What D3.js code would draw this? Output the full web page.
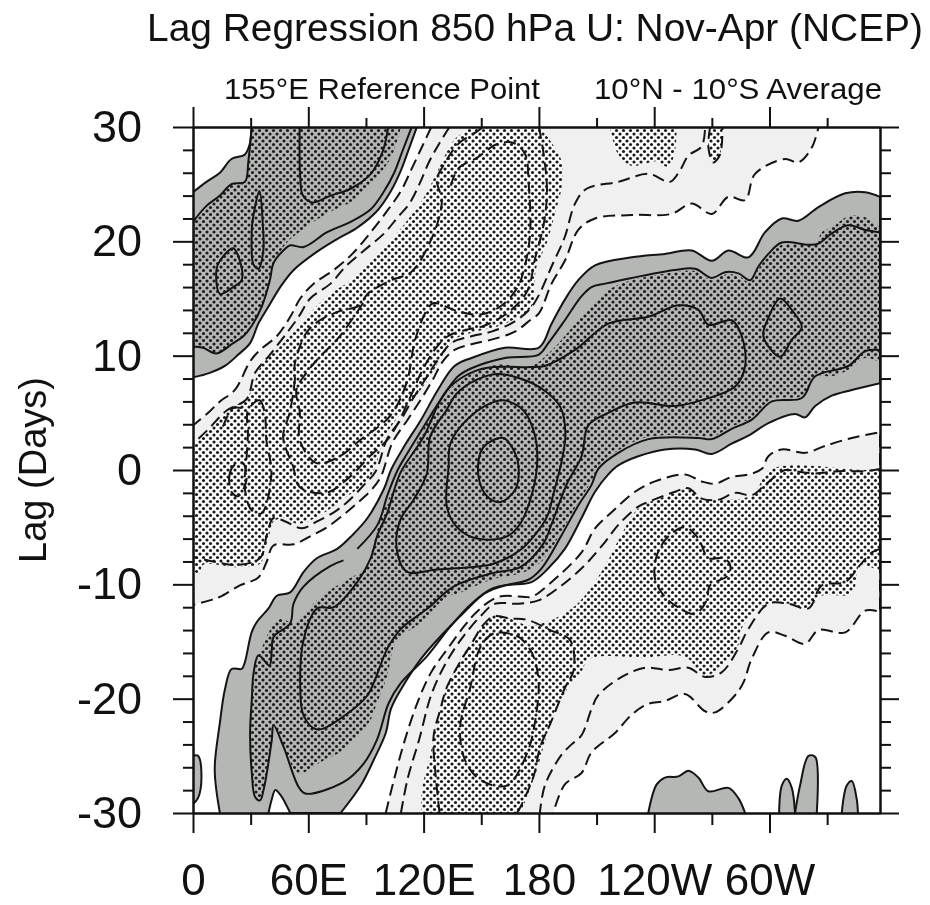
<!DOCTYPE html>
<html>
<head>
<meta charset="utf-8">
<script src="https://cdn.jsdelivr.net/npm/d3@7"></script>
<style>
  html, body { margin: 0; padding: 0; background: #fff; }
  svg { display: block; filter: blur(0.55px); font-family: "Liberation Sans", Arial, sans-serif; fill: #111; }
</style>
</head>
<body>
<svg id="chart" width="930" height="905"></svg>
<script>
// all contours are [longitude (deg E), lag (days)]

const lonMajor = [0, 60, 120, 180, 240, 300]
const lonMinor = [30, 90, 150, 210, 270, 330]
const lonLabels = ["0", "60E", "120E", "180", "120W", "60W"]
const lagMajor = [-30, -20, -10, 0, 10, 20, 30]
const lagMinor = d3.range(-30, 31, 2).filter(d => d % 10 !== 0)

// upper left positive band
const posTopOuter = [[0,24.3],[7,25.2],[14,26],[20,27.2],[27,27.6],[29.5,28.5],[30.5,30],[116.5,30],[112.6,28.2],[108.2,26.2],[103,24.4],[96,22.7],[85.5,21.2],[75,20.2],[64.6,19.1],[52.4,17.5],[45.4,16],[39.3,14.3],[34,12.8],[29.7,11.1],[23.6,10.1],[16.6,9.1],[8.7,8.5],[0,8.1]]
const posTopInner = [[0,21.7],[7,23.1],[14,24],[20,25],[27,25.2],[28.8,27],[30.5,30],[113.8,30],[109,27.9],[104.7,26],[99.5,24.4],[92.5,22.8],[82,21.7],[69.8,20.8],[57.6,19.5],[50.6,19.65],[47,19.2],[41.9,18.1],[40,16.6],[35.8,14.3],[30.5,12.6],[26.2,11.7],[20.9,11.1],[12.2,10.2],[5.2,10.7],[0,10.8]]
const posTopStipple = [[0,21.7],[7,23.1],[14,24],[20,25],[27,25.2],[28.8,27],[30.5,30],[108.2,30],[103,27.3],[92.5,25],[83.8,23.6],[71.6,22.6],[57.6,21.1],[48.9,19.9],[43.6,18.6],[41.9,18.1],[40,16.6],[35.8,14.3],[30.5,12.6],[26.2,11.7],[20.9,11.1],[12.2,10.2],[5.2,10.7],[0,10.8]]
const posTopCore = [[55.5,30],[55.8,25.6],[57.2,24],[62,23.4],[71.6,24],[82,24.6],[92.5,25.9],[98.6,27.8],[101.2,29.6],[101.6,30]]
const posTopSliver = [[34.6,24.4],[31,21.8],[30.5,20.4],[31.4,18],[34,17.6],[36.6,19.2],[36.3,21.5]]
const posTopLoop = [[20.9,19.4],[14,18.3],[12.2,17.5],[14,15.4],[20.9,16],[25.3,16.6],[24.4,18.3]]

// main positive band
const posMainOuter = [[14,-30],[11.3,-26.2],[14,-22.1],[16.6,-19.2],[20.1,-17.4],[25.3,-17.4],[27,-16.8],[30.5,-14.2],[33.2,-13.3],[39.3,-12.1],[43.6,-11],[50.6,-10.7],[57.6,-8.9],[64.6,-7.7],[75,-6.9],[82.9,-5.7],[90.8,-4.2],[99.5,-1.6],[103,0],[110,2.1],[118.7,4.4],[127.4,7],[136.1,9.1],[144.9,9.8],[162.3,10.7],[180,10.7],[186.6,12.8],[193.5,14.9],[200.5,16.6],[209.2,17.9],[228.3,18.6],[245.6,18.9],[259.5,19.2],[270,18.3],[278.6,19.2],[289,18.6],[297.7,20.8],[306.4,22],[315,21.8],[325.5,23],[339.4,24.2],[349.8,24.3],[357.5,23.9],[357.5,7.6],[342.8,7],[332.4,6.5],[323.8,5.6],[318.5,4.6],[313.3,4.9],[299.4,4.1],[289,3],[280.3,2.3],[269.9,1.4],[261.3,1.8],[245.6,1.8],[231.7,1.2],[221.3,0.4],[216,-0.4],[209.2,-1.9],[202.2,-4.2],[193.5,-6.9],[184.9,-8.6],[176.2,-9.8],[162.3,-10.1],[151.8,-10.8],[141.4,-12.4],[127.4,-14.8],[118.7,-16.5],[108.2,-19.2],[103,-20.9],[100.3,-23],[94.2,-25.3],[87.3,-27.6],[76.8,-30],[50.6,-30],[45.4,-28.4],[42.8,-28],[41,-28.8],[39.3,-30]]
const posMainSecond = [[78.3,-7.9],[71.4,-8.4],[57.5,-10.2],[52.3,-11.7],[50.6,-13.4],[41.9,-14.6],[41,-15.7],[39.8,-17.1],[34.1,-16.2],[31.5,-17.8],[30.6,-20.1],[29.7,-23],[30.6,-26.5],[32.3,-28.6],[34.9,-28.9],[36.7,-28],[41,-23.6],[41.9,-22.3],[47.1,-24.2],[54.9,-27.7],[58.4,-28.3],[78.3,-27.3],[88.7,-25.7],[95.7,-23.6],[101.8,-20.4],[107.8,-18.7],[121.7,-16.3],[133.9,-13.7],[144.9,-11.7],[155.3,-10.4],[174.5,-9.6],[181.4,-8.6],[191.8,-5.7],[200.5,-3.1],[207.4,-1.3],[210.9,0.1],[221.3,1.5],[237,2.7],[263,2.8],[269.9,2.7],[280.3,3.6],[290.8,4.4],[301.2,6],[316.8,6.3],[323.8,8.2],[341.1,9.1],[349.8,10.4],[357.5,10.5],[357.5,20.8],[349.8,21],[341.1,21.4],[332.4,20.7],[325.5,19.8],[320.3,19.7],[306.4,19.9],[299.4,18.9],[294.2,17.8],[289.9,16.6],[283.8,17.2],[276.9,17.3],[269.9,16.8],[261.3,17.6],[250.8,17.5],[228.3,16.8],[214.4,16.3],[207.4,16],[202.2,15.2],[193.5,13.1],[184.9,11.1],[180,10.1],[162.3,9.8],[144.9,8.9],[137.9,8.2],[129.1,6.2],[120.4,3.9],[111.7,1.5],[106.5,0],[101.2,-2.2],[96,-4.8],[85.5,-6.9]]
const posMainStipple = [[90.5,-8.5],[83.5,-9.3],[71.4,-10.5],[64.4,-11.4],[56.6,-12.8],[52.3,-13.4],[45.3,-13],[40.1,-14],[36.7,-15.2],[34.1,-16.3],[31.5,-17.8],[30.6,-20.1],[29.7,-23],[30.6,-26.5],[32.3,-28.6],[34.9,-28.9],[36.7,-28],[41,-23.6],[41.9,-22.3],[47.1,-24.2],[54.9,-26.5],[67.9,-25.4],[78.3,-24.5],[92.2,-21.9],[95.7,-20.4],[100.9,-18.1],[106.1,-14.9],[118.3,-13.4],[132.1,-11.1],[137.9,-10.8],[155.3,-9.6],[172.8,-8.9],[181.4,-8],[191.8,-5.4],[200.5,-2.8],[207.4,-1],[210.9,0.3],[221.3,1.7],[237,2.9],[263,3],[269.9,2.9],[280.3,3.8],[290.8,4.6],[301.2,6.2],[316.8,6.5],[323.8,8.2],[332.4,8.2],[342.8,8.9],[349.8,9.8],[357.5,9.4],[357.5,21.2],[349.8,22.1],[341.1,22.2],[332.4,21.2],[327.2,20.8],[323.8,19.8],[306.4,19.7],[299.4,18.7],[294.2,17.6],[289.9,16.4],[283.8,17],[276.9,17.1],[269.9,16.6],[261.3,17.4],[250.8,17.3],[228.3,16.6],[217.8,15.9],[207.4,14.3],[200.5,13.1],[191.8,11.4],[184.9,10.2],[176,9.1],[158.2,9.2],[146,8.5],[137.3,7.6],[130.4,6.4],[123.4,4.7],[114.8,1.8],[106.1,-1.2],[99.1,-3.5],[94.2,-6.4]]
const posMainThird = [[183.1,9.1],[198.8,10.5],[216.1,12.8],[236.9,13.4],[252.6,14.4],[263,14],[268.2,12.7],[280.3,13.1],[285.6,11.7],[287.3,9.1],[282.1,7.3],[266.5,6.2],[250.8,5.6],[230,5.9],[216.1,5],[205.7,3.9],[202.2,1.2],[194.6,-1.2],[186,-5],[182.5,-6.4],[170.3,-8.5],[156.4,-9],[135.6,-10.2],[122.2,-12.1],[108.2,-13.9],[101.2,-15.6],[90.8,-19.7],[80.3,-21.3],[64.6,-22.7],[57.6,-21.5],[55.8,-18.9],[57.6,-14.8],[64.6,-12.1],[73.3,-12],[85.5,-9.8],[92.5,-7.7],[96,-5.7],[101.2,-3.7],[107.8,-0.3],[120,2.9],[128.7,6.1],[133.9,7.3],[146,8.6],[156.4,9],[175.5,9]]
const posMainFourth = [[147.7,7.9],[158.2,8.4],[170.3,8],[182.5,7],[191.2,5.5],[193.8,3.2],[192,0.9],[187.7,-2],[184.2,-4.1],[177.3,-5.8],[170.3,-7],[156.4,-8.2],[144.3,-8.5],[126.9,-8.7],[111.3,-8.9],[106.1,-7],[107.8,-4.4],[114.8,-2.6],[121.7,-0.3],[123.4,2.9],[132.1,5.3],[137.3,6.7]]
const posMainFifth = [[133.9,2.3],[140.8,4.1],[153,5.7],[161.6,6.1],[172,5.2],[178.1,2.9],[179,0.3],[175.5,-2.6],[170.3,-4.7],[163.4,-5.8],[147.7,-6],[137.3,-5],[132.1,-3.2],[133,0.3]]
const posMainCore = [[153,2.3],[161.6,2.8],[166.8,1.75],[169.4,0.3],[167.7,-1.7],[159.9,-2.8],[153,-2.3],[148.6,-0.6],[149.5,1.5]]
const posEastLoop = [[305.5,15],[299.4,13.3],[296.8,11.7],[305.5,9.9],[311.6,11.4],[316.8,12.5],[311.6,14]]

// small positive patches along the lower edge
const posBlobA = [[0,-25],[2.6,-25],[4.4,-26.8],[2.6,-28.7],[0,-29.2]]
const posBlobB = [[236.9,-30],[241.3,-27.5],[245.6,-26.9],[252.6,-26.8],[257.8,-26.3],[263,-26.9],[268.2,-28.1],[278.6,-27.8],[283.8,-28.7],[287.3,-30]]
const posBlobC = [[305,-30],[306.4,-27.6],[309,-27],[311.6,-27.8],[313.3,-30]]
const posBlobD = [[313.3,-30],[315.9,-27.6],[320.3,-25],[323.8,-25.1],[324.6,-30]]
const posBlobE = [[337.6,-30],[340.2,-27.6],[342.8,-27.2],[345.4,-28.8],[346,-30]]

// negative band, upper left of the main band
const negUpperOuter = [[124,30],[118.7,28.1],[113.4,26.2],[108.2,24.4],[101.2,22.7],[92.5,20.8],[82.9,18.9],[73.3,17.5],[62.8,16.3],[55.8,15],[50.6,13.4],[43.6,11.7],[34.9,10.5],[29.7,9.5],[21.8,7],[14,6],[7.9,5],[0,3.9],[0,-11.8],[8.7,-11.4],[14,-11.1],[24.4,-10.1],[34,-9.4],[38.4,-8],[41.9,-6.6],[52.4,-6.5],[61,-5.8],[69.8,-5],[78.5,-3.9],[85.5,-2.9],[92.5,-1.8],[97.7,-0.6],[103.8,2.4],[111.7,4.4],[118.7,6.2],[124.8,7.9],[130,9.5],[136.1,10.5],[144.9,11],[155.3,11.4],[167.5,12.1],[175.4,13.1],[180,13.7],[186.6,16.3],[193.5,18.3],[200.5,21],[209.2,22],[228.3,22.3],[249,22.4],[259.5,23.3],[270,22.4],[278.6,23.9],[287.3,23.6],[292.5,25.9],[308,27.2],[315,26.9],[322,28.2],[325.5,30]]
const negUpperSecond = [[133.5,30],[128.3,28.6],[123,27],[117.8,25],[112.6,23.3],[106.5,22.1],[99.5,20.7],[89,19.2],[79.4,17.8],[71.6,16.3],[61,15],[55,13.4],[48.9,12],[40.1,10.1],[32.3,8.5],[27.9,6.2],[17.5,5.2],[7,3.4],[0,2.3],[0,-7.6],[10.5,-8],[22.7,-8.3],[34.9,-7.7],[38.4,-5.7],[41.9,-4.2],[48,-4.5],[56.7,-5.1],[64.6,-4.5],[73.3,-3.7],[80.3,-2.8],[89,-1.3],[95.1,-0.1],[101.2,2.8],[108.2,4.4],[114.3,6.2],[120.4,7.8],[126.5,9.4],[134.4,11.1],[144.9,11.7],[155.3,12.1],[167.5,13],[175.4,14.1],[180,15.3],[186.6,17.8],[193.5,20.4],[198.8,23.3],[204.8,24.6],[221.3,25.2],[237,25.9],[248.2,25.2],[253.4,26.2],[257.8,27.5],[264.7,28.3],[266.5,30]]
const negUpperStipple = [[145,30],[136.1,28.9],[127.4,26.2],[120.4,23.9],[110,21.5],[99.5,19.5],[82,16.6],[69.8,15.2],[55.8,12.8],[45.4,10.8],[36.6,9.5],[28.8,6.5],[19.2,5.3],[10.5,3.9],[1.7,2.4],[0,2.1],[0,-8.8],[3.5,-9.1],[5.2,-8.3],[22.7,-8.5],[34.9,-8.2],[37.5,-6.9],[40.1,-5.4],[41.9,-4.5],[48,-4.2],[54.1,-4.7],[64.6,-4.1],[80.3,-2.3],[89,-1.2],[94.2,0],[99.5,2.8],[106.5,4.6],[113.4,5.9],[122.2,7.9],[129.1,9.8],[136.1,11.4],[144.9,12],[162.3,12.8],[176.3,14.3],[177.5,16],[178.8,17.8],[184,19.8],[188.3,22.4],[191.8,24.7],[191.8,27],[187.5,28.4],[180.5,30]]
const negUpperThird = [[180,30],[182.5,27.6],[184.2,24.4],[182.5,21.5],[178,18.5],[173.8,15.6],[163.4,13.7],[151.2,12.6],[143.1,12.3],[132.6,11.7],[125.7,10.5],[118.7,8.5],[113.4,6.5],[102.4,2.9],[92,1.2],[81.6,-0.6],[69.4,-2],[55.6,-1.5],[52.1,0.3],[46.9,2.9],[50.3,5],[53,7.9],[53,9.3],[59,12],[66,13.1],[76.4,13.9],[86.8,14.4],[90.8,15.4],[103,16.6],[113.4,17.3],[124.3,20.3],[129.5,23.5],[126.9,25.4],[130.9,26.8],[137.9,28.5],[147.7,29.6],[151,30]]
const negUpperFourth = [[88.5,14.6],[76.4,11.7],[66,9.9],[59,8.5],[53.8,7],[55.6,5],[55.6,2.6],[64.2,0.6],[76.4,1.2],[86.8,2.6],[102.4,4.7],[111.1,7.6],[115.6,11.4],[121.7,14],[125.2,14.6],[137.3,13.9],[149.5,13.6],[159.9,14.3],[168.6,15.9],[172.9,18],[175.5,20.9],[174.6,25.2],[172.9,27.6],[166.8,28.6],[158.1,28.5],[147.7,27.3],[138.2,26.4],[133.8,24.7]]
const negWestSliver = [[28.6,5.2],[34.7,6.1],[37.3,5],[38.2,2.6],[40.8,-0.3],[35.6,-3.8],[30.4,-3.5],[26.9,-1.5],[27.8,0.9],[28.6,3.2]]
const negWestArc = [[15.6,3.8],[20.8,5.4],[26,5.4]]
const negWestLoop = [[22.6,0.6],[19.1,-0.3],[20,-1.9],[23.4,-2.3],[27.8,-0.9],[26,0.6]]
const negTopPatch = [[217,30],[221.3,27.6],[228.3,26.6],[235.2,26.8],[241.3,27],[247.4,26.5],[250.8,27.9],[251.7,30]]
const negTopRing = [[269.1,30],[268.2,28.2],[270.8,26.9],[274.3,27.6],[275.5,30]]

// negative band, lower right of the main band
const negLowerOuter = [[100.3,-30],[103.8,-27.6],[109.9,-23.8],[116.9,-20.3],[123.9,-17.7],[132.6,-15.6],[141.4,-13.6],[148.3,-12.3],[158.8,-11.1],[172.8,-11.1],[176.2,-11.1],[186.6,-9.8],[202.2,-7.2],[209.2,-5.1],[217.8,-3.7],[230,-1.9],[240.4,-1],[256,-0.4],[264.7,-1],[271.7,-1.2],[280.3,-0.6],[289,-0.4],[296,0.1],[299.4,1.2],[306.4,1.8],[318.5,1.5],[328.9,2.1],[342.8,2.8],[357.5,3.3],[357.5,-12.4],[349.8,-12.3],[339.4,-14.2],[325.5,-14],[318.5,-15.2],[308.1,-14.5],[299.4,-14.2],[290.8,-16.5],[286.4,-18.6],[282.1,-19.7],[271.7,-21.2],[266.5,-21.1],[256,-19.6],[245.6,-20.2],[236.1,-20.5],[228.3,-21.4],[219.6,-23],[207.4,-24.7],[202.2,-26.5],[193.5,-27.5],[187.5,-30]]
const negLowerSecond = [[108.2,-30],[111.7,-27],[117.8,-23.5],[123.9,-19.7],[130.9,-17.1],[139.6,-14.8],[150.1,-12.7],[157.1,-11.7],[169.3,-11.7],[179.8,-11.4],[191.8,-10.1],[204,-8.3],[214.4,-6.3],[221.3,-4.8],[231.7,-3.2],[236.9,-2.8],[250.8,-1.9],[257.8,-1.6],[264.7,-2.5],[273.4,-2.6],[282.1,-2],[290.8,-2.2],[297.7,-1.3],[308.1,0],[313.3,-0.1],[323.8,-0.3],[335.9,-0.1],[349.8,-0.1],[357.5,0.1],[357.5,-6.9],[353.3,-7.2],[347.2,-8.3],[339.4,-9.8],[327.2,-10.1],[320.3,-12.1],[309.9,-11.7],[299.4,-11.7],[289,-13.9],[283.8,-15.6],[275.1,-17.7],[266.5,-18.1],[257.8,-17.3],[247.4,-17.5],[235.2,-17.3],[223.1,-18.1],[210.9,-19.7],[207.4,-20.9],[202.2,-23.2],[197,-24],[191.8,-24.9],[183.1,-27.6],[180.5,-30]]
const negLowerStipple = [[357.5,0.1],[349.8,0],[301.2,0.1],[290.8,-2.2],[273.4,-2.6],[264.7,-2.5],[257.8,-1.6],[250.8,-2],[231.7,-3.4],[223.1,-5.6],[212.6,-8.9],[197.3,-12.1],[176.2,-13.6],[165.1,-13],[156.4,-12.7],[149.5,-13.9],[139,-16.6],[132.1,-19],[126.9,-22.2],[123.4,-25],[119.1,-28],[119.1,-30],[170.3,-30],[173.8,-28.6],[179,-26.2],[182.4,-24.2],[187.7,-21.3],[194.6,-19.2],[201.5,-17.8],[206.6,-16.5],[235.2,-16.4],[252.6,-16.2],[257.8,-16.5],[266.5,-18],[274.9,-17.1],[283.6,-15.4],[285.3,-13.9],[297.7,-11.8],[309.9,-11.7],[320.3,-12.1],[327.2,-11],[342.8,-10.8],[347.2,-8.3],[357.5,-8.9]]
const negLobeThird = [[128.3,-30],[126,-26.2],[125.2,-23.3],[128.6,-21],[132.1,-19],[139,-16.8],[146,-14.9],[150.3,-13.7],[156.4,-12.8],[165.1,-13],[173.8,-13.1],[185.9,-14],[196.3,-14.9],[198.1,-17.5],[193.7,-19],[185.9,-22.2],[180.7,-24.2],[177.2,-26.8],[170.3,-29.5],[168.6,-30]]
const negLobeFourth = [[166.8,-14.4],[156.4,-14.3],[149.5,-15.5],[144.3,-19],[139,-22.5],[141.6,-25.4],[149.5,-27.1],[163.3,-27.6],[173.8,-24.8],[178.1,-21.9],[179.8,-18.4],[176.4,-16],[170.3,-14.7]]
const negEastLoop = [[256,-5],[247.4,-5.8],[241.3,-7.5],[240.4,-9.5],[245.6,-11.1],[253.4,-12.1],[261.3,-12.6],[267.3,-11.4],[269,-10.1],[278.6,-9.2],[279.5,-8.3],[276,-7.7],[268.2,-7.7],[263,-6]]

const svg = d3.select("#chart")

const margin = { top: 127, right: 50, bottom: 92, left: 193 },
    width = 687,
    height = 686

const x = d3.scaleLinear().domain([0, 357.5]).range([0, width])
const y = d3.scaleLinear().domain([-30, 30]).range([height, 0])

const onFrame = p => p[0] <= 0 || p[0] >= 357.5 || Math.abs(p[1]) >= 30

// doubling the points on the frame keeps the spline straight along the edge
const openLine = d3.line().x(d => x(d[0])).y(d => y(d[1])).curve(d3.curveCatmullRom.alpha(0.5))
const ringLine = d3.line().x(d => x(d[0])).y(d => y(d[1])).curve(d3.curveCatmullRomClosed.alpha(0.5))
const edgePath = pts => openLine(pts.flatMap(p => onFrame(p) ? [p, p] : [p]))
const fillPath = pts => edgePath(pts) + "Z"

const defs = svg.append("defs")
defs.append("clipPath").attr("id", "plot_clip")
    .append("rect").attr("width", width).attr("height", height)

function stipplePattern(id, background) {
    const size = 7
    const pattern = defs.append("pattern")
        .attr("id", id)
        .attr("patternUnits", "userSpaceOnUse")
        .attr("width", size)
        .attr("height", size)
    if (background) {
        pattern.append("rect").attr("width", size).attr("height", size).attr("fill", background)
    }
    pattern.selectAll("circle")
        .data([[0, 0], [size, 0], [0, size], [size, size], [size / 2, size / 2]])
        .join("circle")
        .attr("cx", d => d[0])
        .attr("cy", d => d[1])
        .attr("r", 1.55)
        .attr("fill", "#1a1a1a")
}
stipplePattern("stipple_pos", null)
stipplePattern("stipple_neg", "#fbfbfb")

const plot = svg.append("g").attr("transform", `translate(${margin.left},${margin.top})`)
const field = plot.append("g").attr("clip-path", "url(#plot_clip)")

function addFill(list, fill) {
    field.append("g").selectAll("path").data(list).join("path")
        .attr("d", fillPath)
        .attr("fill", fill)
}

addFill([negUpperOuter, negLowerOuter], "#f0f0f0")
addFill([posTopOuter, posMainOuter, posBlobA, posBlobB, posBlobC, posBlobD, posBlobE], "#b5b7b5")
addFill([negUpperStipple, negLowerStipple, negTopPatch, negTopRing], "url(#stipple_neg)")
addFill([posTopStipple, posMainStipple], "url(#stipple_pos)")

// contour lines: negative values dashed, positive solid
function addLines(list, dash, path) {
    field.append("g").selectAll("path").data(list).join("path")
        .attr("d", path)
        .attr("fill", "none")
        .attr("stroke", "#141414")
        .attr("stroke-width", 2)
        .attr("stroke-dasharray", dash)
}

addLines([negUpperOuter, negUpperSecond, negUpperThird, negWestArc, negLowerOuter, negLowerSecond, negLobeThird, negTopRing], "12 6", edgePath)
addLines([negUpperFourth], "12 6", openLine)
addLines([negWestSliver, negWestLoop, negLobeFourth, negEastLoop], "12 6", ringLine)
addLines([posTopOuter, posTopInner, posTopCore, posMainOuter, posMainSecond, posBlobA, posBlobB, posBlobC, posBlobD, posBlobE], null, edgePath)
addLines([posTopSliver, posTopLoop, posMainThird, posMainFourth, posMainFifth, posMainCore, posEastLoop], null, ringLine)

// axes
function drawAxis(axis, transform, values, size, padding, format, fontSize) {
    const g = plot.append("g").attr("transform", transform)
        .call(axis.tickValues(values).tickSize(size).tickSizeOuter(0).tickPadding(padding).tickFormat(format))
    g.selectAll("line").attr("stroke", "#111").attr("stroke-width", 2)
    g.select(".domain").attr("stroke", "#111").attr("stroke-width", 2)
    g.selectAll("text").attr("font-size", fontSize).attr("font-family", "Liberation Sans, Arial, sans-serif").attr("fill", "#111")
    return g
}

const noLabel = () => ""
const lonLabel = d => lonLabels[lonMajor.indexOf(d)]

drawAxis(d3.axisLeft(y), "translate(0,0)", lagMajor, 20, 31, d => String(d), 45)
drawAxis(d3.axisLeft(y), "translate(0,0)", lagMinor, 10, 0, noLabel, 10)
drawAxis(d3.axisRight(y), `translate(${width},0)`, lagMajor, 19, 0, noLabel, 10)
drawAxis(d3.axisRight(y), `translate(${width},0)`, lagMinor, 11, 0, noLabel, 10)
drawAxis(d3.axisBottom(x), `translate(0,${height})`, lonMajor, 20, 31, lonLabel, 44)
drawAxis(d3.axisBottom(x), `translate(0,${height})`, lonMinor, 12, 0, noLabel, 10)
drawAxis(d3.axisTop(x), "translate(0,0)", lonMajor, 20, 0, noLabel, 10)
drawAxis(d3.axisTop(x), "translate(0,0)", lonMinor, 9, 0, noLabel, 10)

// texts
svg.append("text").attr("x", 147).attr("y", 41)
    .attr("font-size", 38).attr("textLength", 776).attr("lengthAdjust", "spacingAndGlyphs")
    .text("Lag Regression 850 hPa U: Nov-Apr (NCEP)")

svg.append("text").attr("x", 224).attr("y", 99)
    .attr("font-size", 30).attr("textLength", 316).attr("lengthAdjust", "spacingAndGlyphs")
    .text("155°E Reference Point")

svg.append("text").attr("x", 594).attr("y", 99)
    .attr("font-size", 30).attr("textLength", 288).attr("lengthAdjust", "spacingAndGlyphs")
    .text("10°N - 10°S Average")

svg.append("text")
    .attr("transform", "translate(46,470) rotate(-90)")
    .attr("text-anchor", "middle")
    .attr("font-size", 38)
    .text("Lag (Days)")
</script>
</body>
</html>
